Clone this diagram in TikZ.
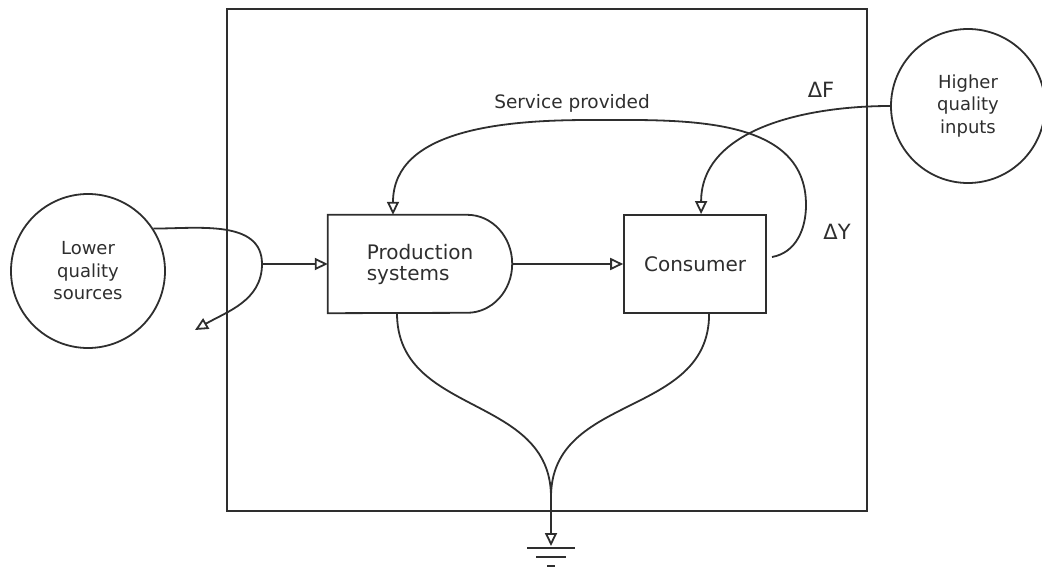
\documentclass[tikz,border=0pt]{standalone}
\usepackage{fontspec}
\setmainfont{DejaVu Sans}
\usetikzlibrary{arrows.meta,positioning}
\definecolor{Ink}{HTML}{2E2E2E}

\begin{document}
\begin{tikzpicture}[x=1pt,y=-1pt,>={Triangle[open,length=13pt,width=12pt]},
    every node/.style={text=Ink},
    flow/.style={draw=Ink,line width=1.8pt},
    pool/.style={circle,draw=Ink,line width=1.8pt,minimum size=154pt,align=center,font=\fontsize{18}{22.5}\selectfont},
    unit/.style={rectangle,minimum height=98pt,align=left,font=\fontsize{20}{21}\selectfont}]
  \useasboundingbox (0,0) rectangle (1042,572);
  \node[draw=Ink,line width=2.4pt,minimum width=640pt,minimum height=502pt] (sys) at (547,260) {};
  \node[pool] (low) at (88,271) {Lower\\quality\\sources};
  \node[pool] (high) at (968,106) {Higher\\quality\\inputs};
  \node[unit,minimum width=184pt] (prod) at (420,264) {Production\\systems};
  \node[unit,draw=Ink,line width=1.8pt,minimum width=142pt,right=111pt of prod] (cons) {Consumer};
  % flat back, round front
  \draw[flow] (prod.south west) -- (prod.north west) -- ([xshift=-45pt]prod.north east)
    arc[start angle=90,end angle=-90,x radius=45pt,y radius=49pt] -- cycle;

  \coordinate (split) at (262,264);
  \coordinate (spill) at (195,330);
  \draw[flow,->] (low.33) to[out=0,in=90] (split) to[out=-90,in=30] (spill);
  \draw[flow,->] (split) -- (prod.west);
  \draw[flow,->] (prod.east) -- (cons.west);

  % feedback loop over the top
  \draw[flow,->] ([xshift=5pt,yshift=7pt]cons.east) to[out=10,in=-90] (806,205)
    to[out=90,in=0] (590,120) to[out=180,in=90] ([xshift=-27pt]prod.north);
  \node[font=\fontsize{18.5}{20}\selectfont] (svc) at (572,103) {Service provided};
  \draw[flow,->] (high.west) to[out=180,in=90] ([xshift=6pt]cons.north);
  \node[font=\fontsize{21}{22}\selectfont] (dF) at (821,90) {ΔF};
  \node[font=\fontsize{21}{22}\selectfont] (dY) at (837,232) {ΔY};

  % losses to the sink
  \coordinate (merge) at (551,497);
  \coordinate (sink) at (551,546);
  \draw[flow] ([xshift=-23pt]prod.south) to[out=-90,in=90,looseness=1.1] (merge);
  \draw[flow] ([xshift=14pt]cons.south) to[out=-90,in=90,looseness=1.1] (merge);
  \draw[flow,->] (merge) -- (sink);
  \draw[flow] (sink) ++(-24,2) -- ++(48,0) ++(-39,9) -- ++(30,0) ++(-19,9) -- ++(8,0);
\end{tikzpicture}
\end{document}
